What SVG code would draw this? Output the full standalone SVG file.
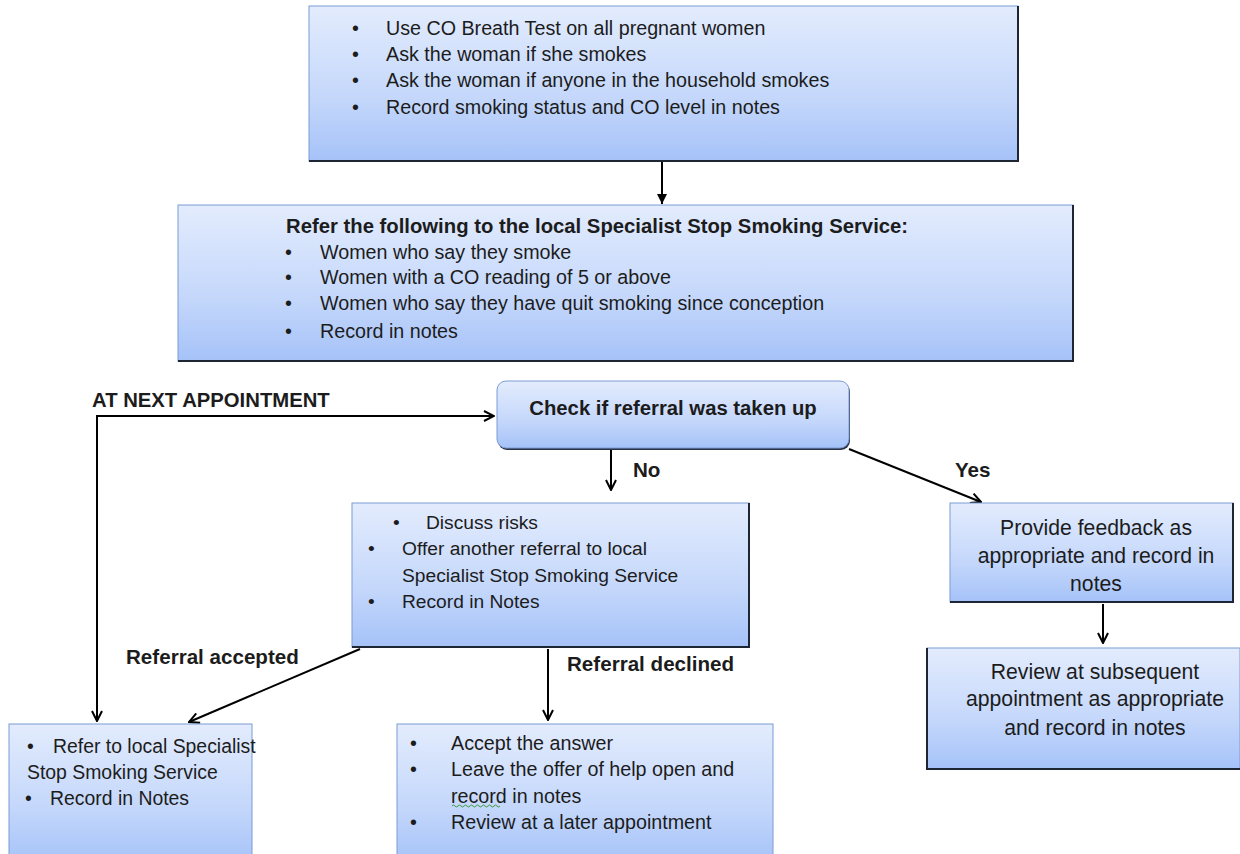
<svg xmlns="http://www.w3.org/2000/svg" width="1240" height="854" viewBox="0 0 1240 854">
<defs>
<linearGradient id="g" x1="0" y1="0" x2="0" y2="1">
<stop offset="0" stop-color="#e3ecfd"/>
<stop offset="0.6" stop-color="#c4d7fb"/>
<stop offset="1" stop-color="#a5c2f8"/>
</linearGradient>
<marker id="open" viewBox="0 0 12 12" refX="11" refY="6" markerWidth="12" markerHeight="12" markerUnits="userSpaceOnUse" orient="auto">
<path d="M1,1 L11,6 L1,11" fill="none" stroke="#000" stroke-width="2"/>
</marker>
<marker id="fill" viewBox="0 0 10 10" refX="10" refY="5" markerWidth="10" markerHeight="10" markerUnits="userSpaceOnUse" orient="auto">
<path d="M0,0 L10,5 L0,10 Z" fill="#000"/>
</marker>
</defs>
<style>
.box{fill:url(#g);stroke:#7b9bd6;stroke-width:1}
.sh{fill:none;stroke:#1e2633;stroke-width:2}
text{font-family:"Liberation Sans",Arial,sans-serif;font-size:19.7px;fill:#1c1c1c}
.b{font-weight:bold;font-size:20.3px}
.c{text-anchor:middle}
.lb{font-size:20.6px}
.m{font-size:19.2px}
.r{font-size:21.2px}
.bl{font-size:19.4px}
.ln{fill:none;stroke:#000;stroke-width:2}
</style>
<g id="connectors">
<path class="ln" d="M662,162 V204" marker-end="url(#fill)"/>
<path class="ln" d="M97,720 V416 H494" marker-end="url(#open)"/>
<path class="ln" d="M97,417 V721" marker-end="url(#open)"/>
<path class="ln" d="M611,449 V490" marker-end="url(#open)"/>
<path class="ln" d="M849,449 L981,502" marker-end="url(#open)"/>
<path class="ln" d="M360,649 L189,722" marker-end="url(#open)"/>
<path class="ln" d="M548,649 V720" marker-end="url(#open)"/>
<path class="ln" d="M1103,604 V643" marker-end="url(#open)"/>
<text class="b" x="92" y="407">AT NEXT APPOINTMENT</text>
<text class="b lb" x="633" y="477">No</text>
<text class="b lb" x="955" y="477">Yes</text>
<text class="b lb" x="126" y="664">Referral accepted</text>
<text class="b lb" x="567" y="671">Referral declined</text>
</g>
<g id="n1">
<rect class="box" x="309" y="6" width="709" height="155"/>
<path class="sh" d="M309,161 H1018 V6"/>
<text x="352" y="35">•</text><text x="386" y="35">Use CO Breath Test on all pregnant women</text>
<text x="352" y="61">•</text><text x="386" y="61">Ask the woman if she smokes</text>
<text x="352" y="87">•</text><text x="386" y="87">Ask the woman if anyone in the household smokes</text>
<text x="352" y="114">•</text><text x="386" y="114">Record smoking status and CO level in notes</text>
</g>
<g id="n2">
<rect class="box" x="178" y="205" width="895" height="156"/>
<path class="sh" d="M178,361 H1073 V205"/>
<text class="b" x="286" y="233">Refer the following to the local Specialist Stop Smoking Service:</text>
<text x="285" y="259">•</text><text x="320" y="259">Women who say they smoke</text>
<text x="285" y="284">•</text><text x="320" y="284">Women with a CO reading of 5 or above</text>
<text x="285" y="310">•</text><text x="320" y="310">Women who say they have quit smoking since conception</text>
<text x="285" y="338">•</text><text x="320" y="338">Record in notes</text>
</g>
<g id="n3">
<rect x="498" y="383" width="352" height="67" rx="9" fill="#2a3345"/>
<rect class="box" x="497" y="381" width="352" height="67" rx="9"/>
<text class="b c" x="673" y="415">Check if referral was taken up</text>
</g>
<g id="n4">
<rect class="box" x="352" y="503" width="397" height="144"/>
<path class="sh" d="M352,647 H749 V503"/>
<text class="m" x="393" y="529">•</text><text class="m" x="426" y="529">Discuss risks</text>
<text class="m" x="368" y="555">•</text><text class="m" x="402" y="555">Offer another referral to local</text>
<text class="m" x="402" y="582">Specialist Stop Smoking Service</text>
<text class="m" x="368" y="608">•</text><text class="m" x="402" y="608">Record in Notes</text>
</g>
<g id="n5">
<rect class="box" x="950" y="503" width="283" height="99"/>
<path class="sh" d="M950,602 H1233 V503"/>
<text class="c r" x="1096" y="535">Provide feedback as</text>
<text class="c r" x="1096" y="563">appropriate and record in</text>
<text class="c r" x="1096" y="591">notes</text>
</g>
<g id="n6">
<rect class="box" x="927" y="648" width="313" height="121"/>
<path class="sh" d="M927,648 V769 H1240"/>
<text class="c r" x="1095" y="679">Review at subsequent</text>
<text class="c r" x="1095" y="706">appointment as appropriate</text>
<text class="c r" x="1095" y="735">and record in notes</text>
</g>
<g id="n7">
<rect class="box" x="9" y="724" width="243" height="140"/>
<text class="bl" x="27" y="753">•</text><text class="bl" x="53" y="753">Refer to local Specialist</text>
<text class="bl" x="27" y="779">Stop Smoking Service</text>
<text class="bl" x="25" y="805">•</text><text class="bl" x="50" y="805">Record in Notes</text>
</g>
<g id="n8">
<rect class="box" x="397" y="724" width="376" height="140"/>
<text x="410" y="750">•</text><text x="451" y="750">Accept the answer</text>
<text x="410" y="776">•</text><text x="451" y="776">Leave the offer of help open and</text>
<text x="451" y="803">record in notes</text>
<text x="410" y="829">•</text><text x="451" y="829">Review at a later appointment</text>
<path d="M452,806 q1.5,-2 3,0 t3,0 t3,0 t3,0 t3,0 t3,0 t3,0 t3,0 t3,0 t3,0 t3,0 t3,0 t3,0 t3,0 t3,0 t3,0" fill="none" stroke="#3c9a3c" stroke-width="1"/>
</g>
</svg>
